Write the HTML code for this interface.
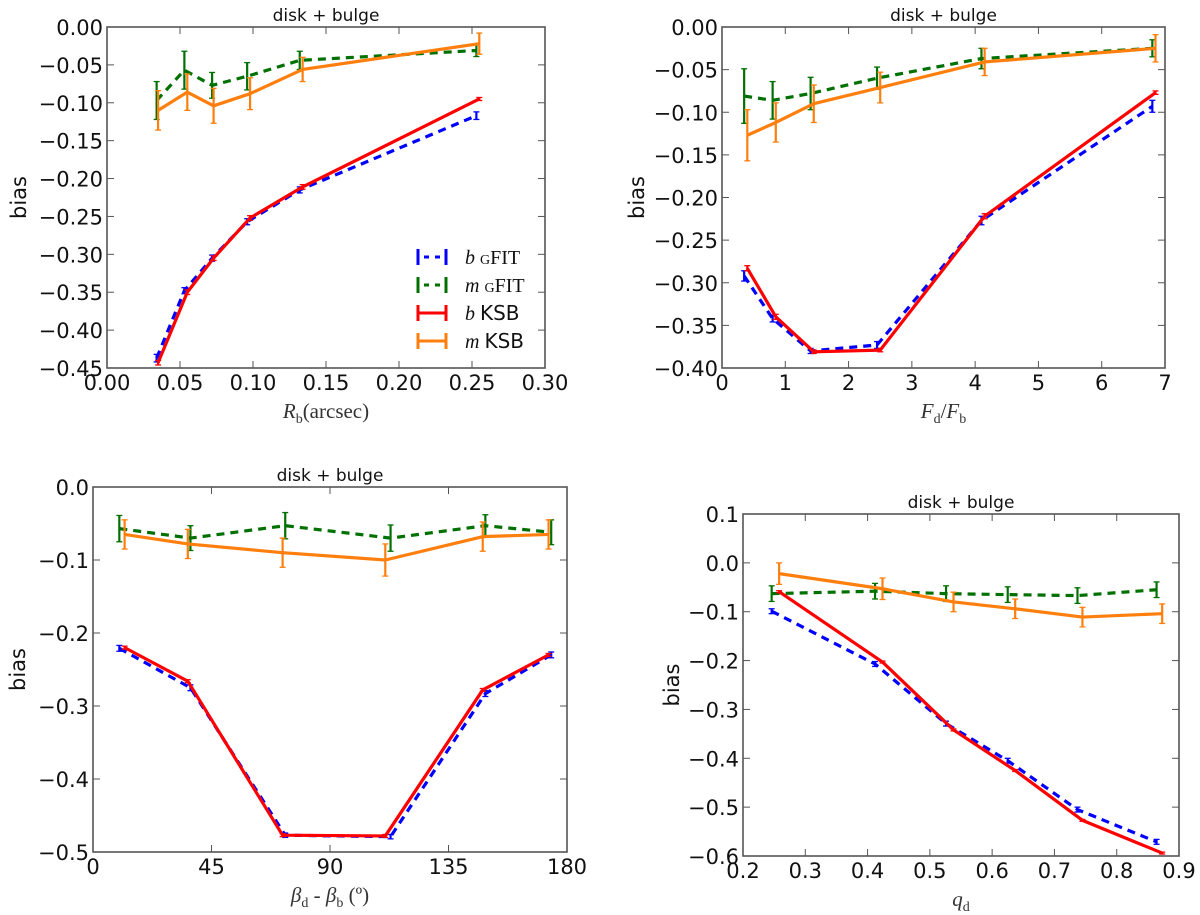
<!DOCTYPE html>
<html><head><meta charset="utf-8"><style>
html,body{margin:0;padding:0;background:#fff;}
svg{display:block;font-family:"DejaVu Sans","Liberation Sans",sans-serif;}
</style></head><body>
<svg id="fig" width="1200" height="915" viewBox="0 0 1200 915" xmlns="http://www.w3.org/2000/svg"></svg>
<script>
// Panel A data (R_b)
const xA_g = [0.034, 0.053, 0.072, 0.096, 0.132, 0.253];
const xA_k = [0.035, 0.055, 0.073, 0.098, 0.134, 0.255];
const bGfitA = [-0.437, -0.348, -0.305, -0.257, -0.215, -0.117];
const bGfitErrA = [0.005, 0.004, 0.004, 0.004, 0.004, 0.005];
const mGfitA = [-0.097, -0.057, -0.077, -0.065, -0.044, -0.031];
const mGfitErrA = [0.025, 0.025, 0.017, 0.018, 0.012, 0.008];
const bKsbA = [-0.443, -0.350, -0.305, -0.252, -0.211, -0.095];
const bKsbErrA = [0.003, 0.003, 0.003, 0.003, 0.003, 0.002];
const mKsbA = [-0.110, -0.086, -0.104, -0.088, -0.056, -0.022];
const mKsbErrA = [0.026, 0.024, 0.023, 0.021, 0.016, 0.014];
const xTicksA = ["0.00","0.05","0.10","0.15","0.20","0.25","0.30"];
const yTicksA = ["0.00","\u22120.05","\u22120.10","\u22120.15","\u22120.20","\u22120.25","\u22120.30","\u22120.35","\u22120.40","\u22120.45"];

// Panel B data (F_d/F_b)
const xB_g = [0.35, 0.8, 1.4, 2.45, 4.1, 6.8];
const xB_k = [0.4, 0.85, 1.45, 2.5, 4.15, 6.85];
const bGfitB = [-0.292, -0.342, -0.380, -0.373, -0.227, -0.093];
const bGfitErrB = [0.006, 0.004, 0.003, 0.004, 0.005, 0.007];
const mGfitB = [-0.081, -0.086, -0.078, -0.060, -0.037, -0.025];
const mGfitErrB = [0.032, 0.022, 0.019, 0.013, 0.012, 0.010];
const bKsbB = [-0.283, -0.340, -0.381, -0.379, -0.222, -0.077];
const bKsbErrB = [0.003, 0.003, 0.002, 0.002, 0.003, 0.002];
const mKsbB = [-0.127, -0.112, -0.090, -0.071, -0.041, -0.025];
const mKsbErrB = [0.030, 0.023, 0.022, 0.018, 0.016, 0.016];
const xTicksB = ["0","1","2","3","4","5","6","7"];
const yTicksB = ["0.00","\u22120.05","\u22120.10","\u22120.15","\u22120.20","\u22120.25","\u22120.30","\u22120.35","\u22120.40"];

// Panel C data (beta_d - beta_b)
const xC_g = [10, 37, 73, 113, 149, 174];
const xC_k = [12, 36, 72, 111, 148, 173];
const bGfitC = [-0.221, -0.275, -0.477, -0.479, -0.283, -0.230];
const bGfitErrC = [0.004, 0.004, 0.003, 0.003, 0.004, 0.004];
const mGfitC = [-0.057, -0.070, -0.053, -0.070, -0.053, -0.062];
const mGfitErrC = [0.018, 0.017, 0.018, 0.018, 0.015, 0.017];
const bKsbC = [-0.220, -0.266, -0.477, -0.478, -0.278, -0.230];
const bKsbErrC = [0.002, 0.002, 0.002, 0.002, 0.002, 0.002];
const mKsbC = [-0.065, -0.078, -0.090, -0.100, -0.068, -0.065];
const mKsbErrC = [0.020, 0.020, 0.020, 0.022, 0.020, 0.020];
const xTicksC = ["0","45","90","135","180"];
const yTicksC = ["0.0","\u22120.1","\u22120.2","\u22120.3","\u22120.4","\u22120.5"];

// Panel D data (q_d)
const xD_g = [0.246, 0.412, 0.526, 0.625, 0.737, 0.864];
const xD_k = [0.258, 0.424, 0.538, 0.637, 0.745, 0.873];
const bGfitD = [-0.099, -0.207, -0.329, -0.405, -0.505, -0.571];
const bGfitErrD = [0.005, 0.005, 0.005, 0.005, 0.005, 0.005];
const mGfitD = [-0.063, -0.058, -0.063, -0.065, -0.067, -0.055];
const mGfitErrD = [0.016, 0.016, 0.016, 0.016, 0.016, 0.016];
const bKsbD = [-0.059, -0.203, -0.342, -0.425, -0.527, -0.594];
const bKsbErrD = [0.002, 0.002, 0.002, 0.002, 0.002, 0.002];
const mKsbD = [-0.022, -0.053, -0.080, -0.094, -0.111, -0.104];
const mKsbErrD = [0.022, 0.022, 0.020, 0.020, 0.020, 0.020];
const xTicksD = ["0.2","0.3","0.4","0.5","0.6","0.7","0.8","0.9"];
const yTicksD = ["0.1","0.0","\u22120.1","\u22120.2","\u22120.3","\u22120.4","\u22120.5","\u22120.6"];

const NS = "http://www.w3.org/2000/svg";
const svg = document.getElementById('fig');
function mk(tag, attrs, parent, text) {
  const e = document.createElementNS(NS, tag);
  for (const k in attrs) e.setAttribute(k, attrs[k]);
  if (text !== undefined) e.textContent = text;
  (parent || svg).appendChild(e);
  return e;
}
const BLUE = "#0000ff", GREEN = "#007000", RED = "#ff0000", ORANGE = "#ff7f0e";

function panel(p) {
  const g = mk('g', {});
  
  
  const sx = v => p.L + (v - p.xmin) / (p.xmax - p.xmin) * (p.R - p.L);
  const sy = v => p.T + (p.ymax - v) / (p.ymax - p.ymin) * (p.B - p.T);
  const t = mk('text', {x: (p.L + p.R) / 2, y: p.T - 6, 'font-size': 17, 'text-anchor': 'middle', fill: '#111'}, g, 'disk + bulge');
  
  
  const nx = p.xt.length, ny = p.yt.length;
  for (let i = 0; i < nx; i++) {
    const v = p.xmin + i * (p.xmax - p.xmin) / (nx - 1), x = sx(v);
    mk('line', {x1: x, x2: x, y1: p.B, y2: p.B - 7, stroke: '#555', 'stroke-width': 1}, g);
    mk('line', {x1: x, x2: x, y1: p.T, y2: p.T + 7, stroke: '#555', 'stroke-width': 1}, g);
    const tl = mk('text', {x: x, y: p.B + 22, 'font-size': 21, 'text-anchor': 'middle', fill: '#111'}, g, p.xt[i]);
    
    
  }
  for (let i = 0; i < ny; i++) {
    const v = p.ymax - i * (p.ymax - p.ymin) / (ny - 1), y = sy(v);
    mk('line', {x1: p.L, x2: p.L + 7, y1: y, y2: y, stroke: '#555', 'stroke-width': 1}, g);
    mk('line', {x1: p.R, x2: p.R - 7, y1: y, y2: y, stroke: '#555', 'stroke-width': 1}, g);
    const tl = mk('text', {x: p.L - 4, y: y + 8, 'font-size': 21, 'text-anchor': 'end', fill: '#111'}, g, p.yt[i]);
    
    
  }
  function series(xs, ys, es, color, dash, nm) {
    const sg = mk('g', {}, g);
    
    
    const pts = xs.map((x, i) => sx(x) + ',' + sy(ys[i])).join(' ');
    const attrs = {points: pts, fill: 'none', stroke: color, 'stroke-width': 3.2, 'stroke-linejoin': 'round'};
    if (dash) attrs['stroke-dasharray'] = '8,6';
    mk('polyline', attrs, sg);
    xs.forEach((x, i) => {
      const cx = sx(x), y1 = sy(ys[i] + es[i]), y2 = sy(ys[i] - es[i]);
      mk('line', {x1: cx, x2: cx, y1: y1, y2: y2, stroke: color, 'stroke-width': 2.2}, sg);
      mk('line', {x1: cx - 3, x2: cx + 3, y1: y1, y2: y1, stroke: color, 'stroke-width': 1.3}, sg);
      mk('line', {x1: cx - 3, x2: cx + 3, y1: y2, y2: y2, stroke: color, 'stroke-width': 1.3}, sg);
    });
  }
  series(p.xg, p.bg, p.bge, BLUE, true, 'series-b-gfit');
  series(p.xg, p.mg, p.mge, GREEN, true, 'series-m-gfit');
  series(p.xk, p.bk, p.bke, RED, false, 'series-b-ksb');
  series(p.xk, p.mk, p.mke, ORANGE, false, 'series-m-ksb');
  mk('rect', {x: p.L, y: p.T, width: p.R - p.L, height: p.B - p.T, fill: 'none', stroke: '#555', 'stroke-width': 1.6}, g);
  const yl = mk('text', {x: p.ylx, y: (p.T + p.B) / 2, 'font-size': 21, 'text-anchor': 'middle', fill: '#111', transform: 'rotate(-90 ' + p.ylx + ' ' + (p.T + p.B) / 2 + ')'}, g, 'bias');
  
  
  const xl = mk('text', {x: (p.L + p.R) / 2, y: p.B + 50, 'font-size': 21, 'text-anchor': 'middle', fill: '#333', 'font-family': '"Liberation Serif","DejaVu Serif",serif'}, g);
  xl.innerHTML = p.xlabel;
  
  
  return g;
}

panel({name: 'panel-rb', L: 107, R: 545, T: 27, B: 368, xmin: 0, xmax: 0.30, ymin: -0.45, ymax: 0,
  xt: xTicksA, yt: yTicksA, xg: xA_g, xk: xA_k, bg: bGfitA, bge: bGfitErrA, mg: mGfitA, mge: mGfitErrA,
  bk: bKsbA, bke: bKsbErrA, mk: mKsbA, mke: mKsbErrA, ylx: 26,
  xlabel: '<tspan font-style="italic">R</tspan><tspan font-size="14" dy="5">b</tspan><tspan dy="-5">(arcsec)</tspan>'});
panel({name: 'panel-fd-fb', L: 722, R: 1165, T: 27, B: 368, xmin: 0, xmax: 7, ymin: -0.40, ymax: 0,
  xt: xTicksB, yt: yTicksB, xg: xB_g, xk: xB_k, bg: bGfitB, bge: bGfitErrB, mg: mGfitB, mge: mGfitErrB,
  bk: bKsbB, bke: bKsbErrB, mk: mKsbB, mke: mKsbErrB, ylx: 644,
  xlabel: '<tspan font-style="italic">F</tspan><tspan font-size="14" dy="5">d</tspan><tspan dy="-5">/</tspan><tspan font-style="italic">F</tspan><tspan font-size="14" dy="5">b</tspan>'});
panel({name: 'panel-beta', L: 93, R: 567, T: 487, B: 852, xmin: 0, xmax: 180, ymin: -0.5, ymax: 0,
  xt: xTicksC, yt: yTicksC, xg: xC_g, xk: xC_k, bg: bGfitC, bge: bGfitErrC, mg: mGfitC, mge: mGfitErrC,
  bk: bKsbC, bke: bKsbErrC, mk: mKsbC, mke: mKsbErrC, ylx: 25,
  xlabel: '<tspan font-style="italic">β</tspan><tspan font-size="14" dy="5">d</tspan><tspan dy="-5"> - </tspan><tspan font-style="italic">β</tspan><tspan font-size="14" dy="5">b</tspan><tspan dy="-5"> (º)</tspan>'});
panel({name: 'panel-qd', L: 743, R: 1179, T: 514, B: 856, xmin: 0.2, xmax: 0.9, ymin: -0.6, ymax: 0.1,
  xt: xTicksD, yt: yTicksD, xg: xD_g, xk: xD_k, bg: bGfitD, bge: bGfitErrD, mg: mGfitD, mge: mGfitErrD,
  bk: bKsbD, bke: bKsbErrD, mk: mKsbD, mke: mKsbErrD, ylx: 679,
  xlabel: '<tspan font-style="italic">q</tspan><tspan font-size="14" dy="5">d</tspan>'});

const lg = mk('g', {});


const legColors = [BLUE, GREEN, RED, ORANGE];
const legDash = [true, true, false, false];
const legSym = ['b', 'm', 'b', 'm'];
const legTxt = ['GFIT', 'GFIT', 'KSB', 'KSB'];
const legY = [257, 285, 313, 341];
for (let i = 0; i < 4; i++) {
  const eg = mk('g', {}, lg);
  
  
  const y = legY[i], c = legColors[i];
  mk('line', {x1: 418, x2: 418, y1: y - 8, y2: y + 8, stroke: c, 'stroke-width': 3}, eg);
  mk('line', {x1: 446, x2: 446, y1: y - 8, y2: y + 8, stroke: c, 'stroke-width': 3}, eg);
  const la = {x1: 418, x2: 446, y1: y, y2: y, stroke: c, 'stroke-width': 3};
  if (legDash[i]) la['stroke-dasharray'] = '0,6,5,6,5,6';
  mk('line', la, eg);
  const tx = mk('text', {x: 465, y: y + 7, 'font-size': 20, fill: '#111', 'font-family': '"Liberation Serif",serif'}, eg);
  if (i < 2) {
    tx.innerHTML = '<tspan font-style="italic">' + legSym[i] + '</tspan> <tspan font-variant="small-caps">g</tspan>' + 'FIT';
  } else {
    tx.innerHTML = '<tspan font-style="italic">' + legSym[i] + '</tspan> <tspan font-family="DejaVu Sans, Liberation Sans, sans-serif">' + legTxt[i] + '</tspan>';
  }
}
</script>
</body></html>
